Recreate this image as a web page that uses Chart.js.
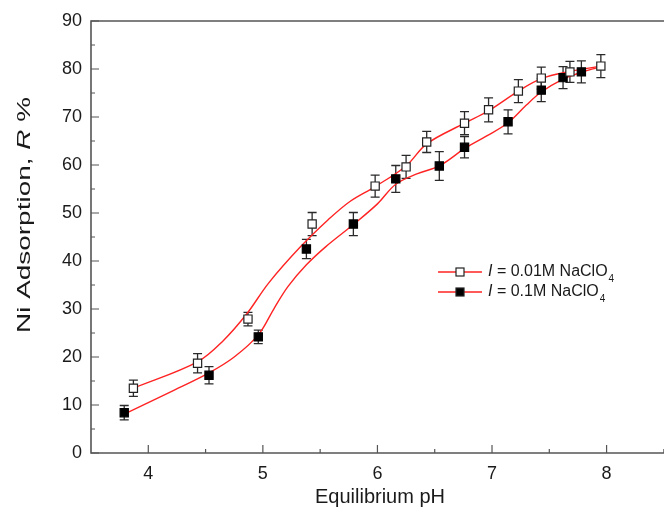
<!DOCTYPE html>
<html>
<head>
<meta charset="utf-8">
<script src="https://cdn.jsdelivr.net/npm/chart.js@4"></script>
<style>
html,body{margin:0;padding:0;background:#fff;overflow:hidden;}
#wrap{width:664px;height:512px;position:relative;}
</style>
</head>
<body>
<div id="wrap"><canvas id="c" width="664" height="512"></canvas></div>
<script>
// Measured points, 0.01 M NaClO4 (open squares)
const phOpen  = [3.87, 4.43, 4.87, 5.43, 5.98, 6.25, 6.43, 6.76, 6.97, 7.23, 7.43, 7.68, 7.95];
const rOpen   = [13.5, 18.7, 27.9, 47.7, 55.6, 59.6, 64.8, 68.7, 71.5, 75.4, 78.1, 79.4, 80.6];
const errOpen = [1.7, 2.0, 1.4, 2.4, 2.3, 2.4, 2.2, 2.4, 2.5, 2.4, 2.3, 2.2, 2.4];
// Measured points, 0.1 M NaClO4 (filled squares)
const phFilled  = [3.79, 4.53, 4.96, 5.38, 5.79, 6.16, 6.54, 6.76, 7.14, 7.43, 7.62, 7.78];
const rFilled   = [8.4, 16.2, 24.2, 42.5, 47.7, 57.1, 59.8, 63.7, 69.0, 75.6, 78.2, 79.4];
const errFilled = [1.5, 1.8, 1.4, 2.0, 2.4, 2.8, 3.0, 2.2, 2.5, 2.4, 2.3, 2.3];
// Fitted curves
const fitOpenX = [3.87, 4.43, 4.65, 4.86, 5.05, 5.33, 5.57, 5.76, 5.98, 6.25, 6.43, 6.76, 6.97, 7.23, 7.43, 7.68, 7.95];
const fitOpenY = [13.5, 19.0, 23.3, 29.0, 35.4, 43.0, 48.6, 52.4, 55.5, 59.8, 64.4, 68.7, 71.3, 75.4, 78.0, 79.5, 80.6];
const fitFilledX = [3.79, 4.20, 4.53, 4.75, 4.96, 5.10, 5.22, 5.38, 5.55, 5.79, 6.00, 6.16, 6.35, 6.54, 6.76, 6.95, 7.14, 7.30, 7.43, 7.62, 7.78, 7.92];
const fitFilledY = [8.1, 12.8, 16.7, 20.0, 24.6, 30.2, 34.7, 39.2, 43.0, 47.6, 51.9, 56.0, 58.2, 59.8, 63.4, 66.0, 68.8, 72.5, 75.2, 77.9, 79.3, 80.3];
// Axis ticks
const xTicks = [4, 5, 6, 7, 8];
const xMinor = [3.5, 4.5, 5.5, 6.5, 7.5, 8.5];
const yTicks = [0, 10, 20, 30, 40, 50, 60, 70, 80, 90];
const yMinor = [5, 15, 25, 35, 45, 55, 65, 75, 85];
const legendLabels = ['0.01M NaClO', '0.1M NaClO'];

const FONT = '"Liberation Sans", Arial, sans-serif';
const RED = 'rgb(255,35,35)';
const pts = (xs, ys) => xs.map((x, i) => ({x: x, y: ys[i]}));

const errorBars = {
  id: 'errorBars',
  beforeDatasetsDraw(chart) {
    const ctx = chart.ctx, xs = chart.scales.x, ys = chart.scales.y;
    ctx.save();
    ctx.strokeStyle = '#2a2a2a';
    ctx.lineWidth = 1.3;
    const draw = (px, py, er) => {
      px.forEach((x, i) => {
        const X = xs.getPixelForValue(x);
        const Y1 = ys.getPixelForValue(py[i] + er[i]);
        const Y2 = ys.getPixelForValue(py[i] - er[i]);
        ctx.beginPath();
        ctx.moveTo(X, Y1); ctx.lineTo(X, Y2);
        ctx.moveTo(X - 4.5, Y1); ctx.lineTo(X + 4.5, Y1);
        ctx.moveTo(X - 4.5, Y2); ctx.lineTo(X + 4.5, Y2);
        ctx.stroke();
      });
    };
    draw(phOpen, rOpen, errOpen);
    draw(phFilled, rFilled, errFilled);
    ctx.restore();
  }
};

const frame = {
  id: 'frame',
  afterDraw(chart) {
    const ctx = chart.ctx, xs = chart.scales.x, ys = chart.scales.y;
    const a = chart.chartArea;
    ctx.save();
    ctx.strokeStyle = '#555';
    ctx.lineWidth = 1.6;
    ctx.beginPath();
    ctx.moveTo(664, a.top); ctx.lineTo(a.left, a.top); ctx.lineTo(a.left, a.bottom); ctx.lineTo(664, a.bottom);
    ctx.stroke();
    ctx.lineWidth = 1.2;
    ctx.beginPath();
    xTicks.forEach(v => { const X = xs.getPixelForValue(v); ctx.moveTo(X, a.bottom); ctx.lineTo(X, a.bottom - 8); });
    xMinor.forEach(v => { const X = xs.getPixelForValue(v); if (X > a.left + 1) { ctx.moveTo(X, a.bottom); ctx.lineTo(X, a.bottom - 4); } });
    yTicks.forEach(v => { const Y = ys.getPixelForValue(v); ctx.moveTo(a.left, Y); ctx.lineTo(a.left + 8, Y); });
    yMinor.forEach(v => { const Y = ys.getPixelForValue(v); ctx.moveTo(a.left, Y); ctx.lineTo(a.left + 4, Y); });
    ctx.stroke();

    // axis titles
    ctx.fillStyle = '#1a1a1a';
    ctx.textBaseline = 'middle';
    ctx.font = '20px ' + FONT;
    ctx.textAlign = 'center';
    ctx.fillText('Equilibrium pH', (a.left + a.right) / 2 + 6, 497);
    // y title with italic R
    ctx.save();
    ctx.translate(25, 215);
    ctx.rotate(-Math.PI / 2);
    const p1 = 'Ni Adsorption, ', p2 = 'R', p3 = ' %';
    const F = 19;
    ctx.font = F + 'px ' + FONT; const w1 = ctx.measureText(p1).width; const w3 = ctx.measureText(p3).width;
    ctx.font = 'italic ' + F + 'px ' + FONT; const w2 = ctx.measureText(p2).width;
    const total = w1 + w2 + w3;
    ctx.scale(236 / total, 1);
    let x0 = -total / 2;
    ctx.textAlign = 'left';
    ctx.font = F + 'px ' + FONT; ctx.fillText(p1, x0, 0);
    ctx.font = 'italic ' + F + 'px ' + FONT; ctx.fillText(p2, x0 + w1, 0);
    ctx.font = F + 'px ' + FONT; ctx.fillText(p3, x0 + w1 + w2, 0);
    ctx.restore();

    // legend
    const rows = [{y: 272, fill: '#fff'}, {y: 292, fill: '#000'}];
    rows.forEach((r, i) => {
      ctx.strokeStyle = RED; ctx.lineWidth = 1.5;
      ctx.beginPath(); ctx.moveTo(438, r.y); ctx.lineTo(482, r.y); ctx.stroke();
      ctx.fillStyle = r.fill; ctx.strokeStyle = '#222'; ctx.lineWidth = 1.2;
      ctx.fillRect(456, r.y - 4, 8, 8); ctx.strokeRect(456, r.y - 4, 8, 8);
      ctx.fillStyle = '#1a1a1a';
      ctx.textAlign = 'left';
      ctx.font = 'italic 16px ' + FONT;
      ctx.fillText('I', 488, r.y);
      const wi = ctx.measureText('I').width;
      ctx.font = '16px ' + FONT;
      const t = ' = ' + legendLabels[i];
      ctx.fillText(t, 488 + wi, r.y);
      const wt = ctx.measureText(t).width;
      ctx.font = '10px ' + FONT;
      ctx.fillText('4', 488 + wi + wt + 1, r.y + 7);
    });
    ctx.restore();
  }
};

new Chart(document.getElementById('c'), {
  type: 'scatter',
  data: {
    datasets: [
      { label: 'fit 0.01M', data: pts(fitOpenX, fitOpenY), showLine: true, borderColor: RED, borderWidth: 1.4,
        pointRadius: 0, tension: 0.35, fill: false, order: 3 },
      { label: 'fit 0.1M', data: pts(fitFilledX, fitFilledY), showLine: true, borderColor: RED, borderWidth: 1.4,
        pointRadius: 0, tension: 0.35, fill: false, order: 3 },
      { label: 'I = 0.01M NaClO4', data: pts(phOpen, rOpen), showLine: false, pointStyle: 'rect', pointRadius: 5.8,
        pointBackgroundColor: '#fff', pointBorderColor: '#222', pointBorderWidth: 1.2, order: 1 },
      { label: 'I = 0.1M NaClO4', data: pts(phFilled, rFilled), showLine: false, pointStyle: 'rect', pointRadius: 5.8,
        pointBackgroundColor: '#000', pointBorderColor: '#000', pointBorderWidth: 1.2, order: 1 }
    ]
  },
  options: {
    responsive: false,
    animation: false,
    events: [],
    layout: { padding: { top: 21, right: 0, left: 0, bottom: 0 } },
    plugins: { legend: { display: false }, tooltip: { enabled: false } },
    scales: {
      x: {
        type: 'linear', min: 3.5, max: 8.44,
        afterBuildTicks: s => { s.ticks = xTicks.map(v => ({value: v})); },
        afterFit: s => { s.height = 59; },
        grid: { display: false, drawTicks: false },
        border: { display: false },
        ticks: { color: '#1a1a1a', font: { family: FONT, size: 18 }, padding: 10, maxRotation: 0 }
      },
      y: {
        type: 'linear', min: 0, max: 90,
        afterBuildTicks: s => { s.ticks = yTicks.map(v => ({value: v})); },
        afterFit: s => { s.width = 91; },
        grid: { display: false, drawTicks: false },
        border: { display: false },
        ticks: { color: '#1a1a1a', font: { family: FONT, size: 18 }, padding: 9 }
      }
    }
  },
  plugins: [errorBars, frame]
});
</script>
</body>
</html>
